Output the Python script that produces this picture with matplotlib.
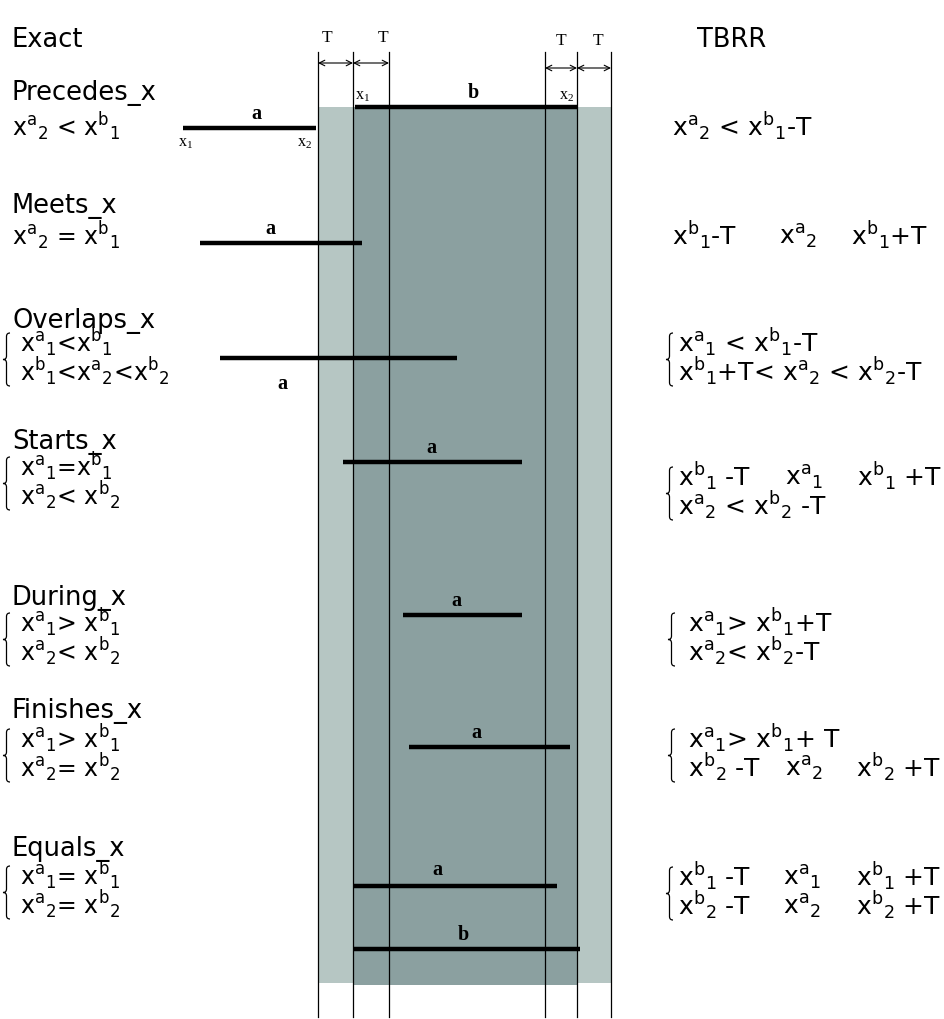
import matplotlib
matplotlib.use("Agg")
import matplotlib.pyplot as plt
from matplotlib.path import Path
from matplotlib.patches import PathPatch, Rectangle

plt.rcParams['font.family'] = ['DejaVu Sans']
plt.rcParams['mathtext.default'] = 'regular'

# ---------------- data ----------------
relations = ['Precedes_x', 'Meets_x', 'Overlaps_x', 'Starts_x', 'During_x', 'Finishes_x', 'Equals_x']
exact_formulas = [
    [r'$x^a{}_2$ < $x^b{}_1$'],
    [r'$x^a{}_2$ = $x^b{}_1$'],
    [r'$x^a{}_1$<$x^b{}_1$', r'$x^b{}_1$<$x^a{}_2$<$x^b{}_2$'],
    [r'$x^a{}_1$=$x^b{}_1$', r'$x^a{}_2$< $x^b{}_2$'],
    [r'$x^a{}_1$> $x^b{}_1$', r'$x^a{}_2$< $x^b{}_2$'],
    [r'$x^a{}_1$> $x^b{}_1$', r'$x^a{}_2$= $x^b{}_2$'],
    [r'$x^a{}_1$= $x^b{}_1$', r'$x^a{}_2$= $x^b{}_2$'],
]
# TBRR formulas: each line is a list of pieces (pieces separated by missing symbols)
tbrr_formulas = [
    [[r'$x^a{}_2$ < $x^b{}_1$-T']],
    [[r'$x^b{}_1$-T', r'$x^a{}_2$', r'$x^b{}_1$+T']],
    [[r'$x^a{}_1$ < $x^b{}_1$-T'], [r'$x^b{}_1$+T< $x^a{}_2$ < $x^b{}_2$-T']],
    [[r'$x^b{}_1$ -T', r'$x^a{}_1$', r'$x^b{}_1$ +T'], [r'$x^a{}_2$ < $x^b{}_2$ -T']],
    [[r'$x^a{}_1$> $x^b{}_1$+T'], [r'$x^a{}_2$< $x^b{}_2$-T']],
    [[r'$x^a{}_1$> $x^b{}_1$+ T'], [r'$x^b{}_2$ -T', r'$x^a{}_2$', r'$x^b{}_2$ +T']],
    [[r'$x^b{}_1$ -T', r'$x^a{}_1$', r'$x^b{}_1$ +T'], [r'$x^b{}_2$ -T', r'$x^a{}_2$', r'$x^b{}_2$ +T']],
]
a_start = [183, 200, 220, 343, 403, 409, 353]
a_end = [316, 362, 457, 522, 522, 570, 557]
b_start = [355, 353]
b_end = [578, 580]
tol_lines = [318, 353, 389, 545, 577, 611]   # x1-T, x1, x1+T, x2-T, x2, x2+T

# ---------------- layout ----------------
title_base = [100, 213, 328, 449, 605, 718, 856]
exact_base = [136, 245, 352, 476, 632, 748, 885]
tbrr_base = [136, 245, 352, 486, 632, 748, 886]
line_gap = 29
a_y = [128, 243, 358, 462, 615, 747, 886]
a_label = [(256, 119), (270, 234), (282, 389), (431, 453), (456, 606), (476, 738), (437, 875)]
b_y = [107, 949]
b_label = [(473, 98), (463, 940)]
tbrr_text_x = [672, 672, 678, 678, 688, 688, 678]
tbrr_brace_x = [None, None, 666, 666, 668, 668, 666]
piece_offsets = {1: [0, 107, 179], 3: [0, 107, 179], 5: [0, 97, 168], 6: [0, 105, 178]}

fig = plt.figure(figsize=(9.45, 10.19), dpi=100)
ax = fig.add_axes([0, 0, 1, 1])
ax.set_xlim(0, 945)
ax.set_ylim(1019, 0)
ax.axis('off')

FS = 18.5
FS_EX = 17
FS_TB = 18
SERIF = 'Liberation Serif'

# shaded tolerance zones
ax.add_patch(Rectangle((tol_lines[0], 107), tol_lines[5] - tol_lines[0], 983 - 107,
                       facecolor='#b6c6c3', edgecolor='none', zorder=0))
ax.add_patch(Rectangle((tol_lines[1], 107), tol_lines[4] - tol_lines[1], 985 - 107,
                       facecolor='#8ba0a0', edgecolor='none', zorder=0.5))

# vertical tolerance lines
for xv in tol_lines:
    ax.plot([xv, xv], [52, 1017], color='black', lw=0.9, zorder=2)

# T arrows
for (xa, xb, yy) in [(tol_lines[0], tol_lines[1], 63), (tol_lines[1], tol_lines[2], 63),
                     (tol_lines[3], tol_lines[4], 68), (tol_lines[4], tol_lines[5], 68)]:
    ax.annotate('', xy=(xa, yy), xytext=(xb, yy),
                arrowprops=dict(arrowstyle='<->', lw=0.8, shrinkA=0, shrinkB=0,
                                mutation_scale=10, color='black'))
for xt, yt in [(327, 38), (383, 38), (561, 41), (598, 41)]:
    ax.text(xt, yt, 'T', fontsize=12.5, family=SERIF, ha='center', va='center')

# b bars
for xs, xe, yy in zip(b_start, b_end, b_y):
    ax.plot([xs, xe], [yy, yy], color='black', lw=3.2, solid_capstyle='butt', zorder=3)
for (xl, yl) in b_label:
    ax.text(xl, yl, 'b', fontsize=14.5, family=SERIF, weight='bold', ha='center', va='baseline')
ax.text(363, 100, r'x$_1$', fontsize=11.5, family=SERIF, ha='center', va='baseline')
ax.text(567, 100, r'x$_2$', fontsize=11.5, family=SERIF, ha='center', va='baseline')

# a bars
for i in range(len(relations)):
    ax.plot([a_start[i], a_end[i]], [a_y[i], a_y[i]], color='black', lw=3.2,
            solid_capstyle='butt', zorder=3)
    xl, yl = a_label[i]
    ax.text(xl, yl, 'a', fontsize=14.5, family=SERIF, weight='bold', ha='center', va='baseline')
ax.text(186, 147, r'x$_1$', fontsize=11.5, family=SERIF, ha='center', va='baseline')
ax.text(305, 147, r'x$_2$', fontsize=11.5, family=SERIF, ha='center', va='baseline')


def brace(x, y0, y1, w=7):
    ym = (y0 + y1) / 2
    h = w / 2
    verts = [(x + w, y0), (x + h, y0), (x + h, y0 + h),
             (x + h, ym - h), (x + h, ym), (x, ym),
             (x + h, ym), (x + h, ym + h),
             (x + h, y1 - h), (x + h, y1), (x + w, y1)]
    codes = [Path.MOVETO, Path.CURVE3, Path.CURVE3,
             Path.LINETO, Path.CURVE3, Path.CURVE3,
             Path.CURVE3, Path.CURVE3,
             Path.LINETO, Path.CURVE3, Path.CURVE3]
    ax.add_patch(PathPatch(Path(verts, codes), facecolor='none', edgecolor='black', lw=0.9))


# headers
ax.text(12, 47, 'Exact', fontsize=FS, va='baseline')
ax.text(697, 47, 'TBRR', fontsize=FS, va='baseline')

for i, name in enumerate(relations):
    ax.text(12, title_base[i], name, fontsize=FS, va='baseline')
    # exact formulas
    lines = exact_formulas[i]
    eb = exact_base[i]
    if len(lines) == 1:
        ax.text(12, eb, lines[0], fontsize=FS_EX, va='baseline')
    else:
        for j, s in enumerate(lines):
            ax.text(20, eb + j * line_gap, s, fontsize=FS_EX, va='baseline')
        brace(3, eb - 19, eb + line_gap + 5)
    # TBRR formulas
    tl = tbrr_formulas[i]
    tb = tbrr_base[i]
    xs = tbrr_text_x[i]
    offs = piece_offsets.get(i, [0])
    for j, pieces in enumerate(tl):
        for k, p in enumerate(pieces):
            ax.text(xs + offs[k], tb + j * line_gap, p, fontsize=FS_TB, va='baseline')
    if tbrr_brace_x[i] is not None:
        brace(tbrr_brace_x[i], tb - 19, tb + line_gap + 5)

fig.savefig('out.png', dpi=100)
